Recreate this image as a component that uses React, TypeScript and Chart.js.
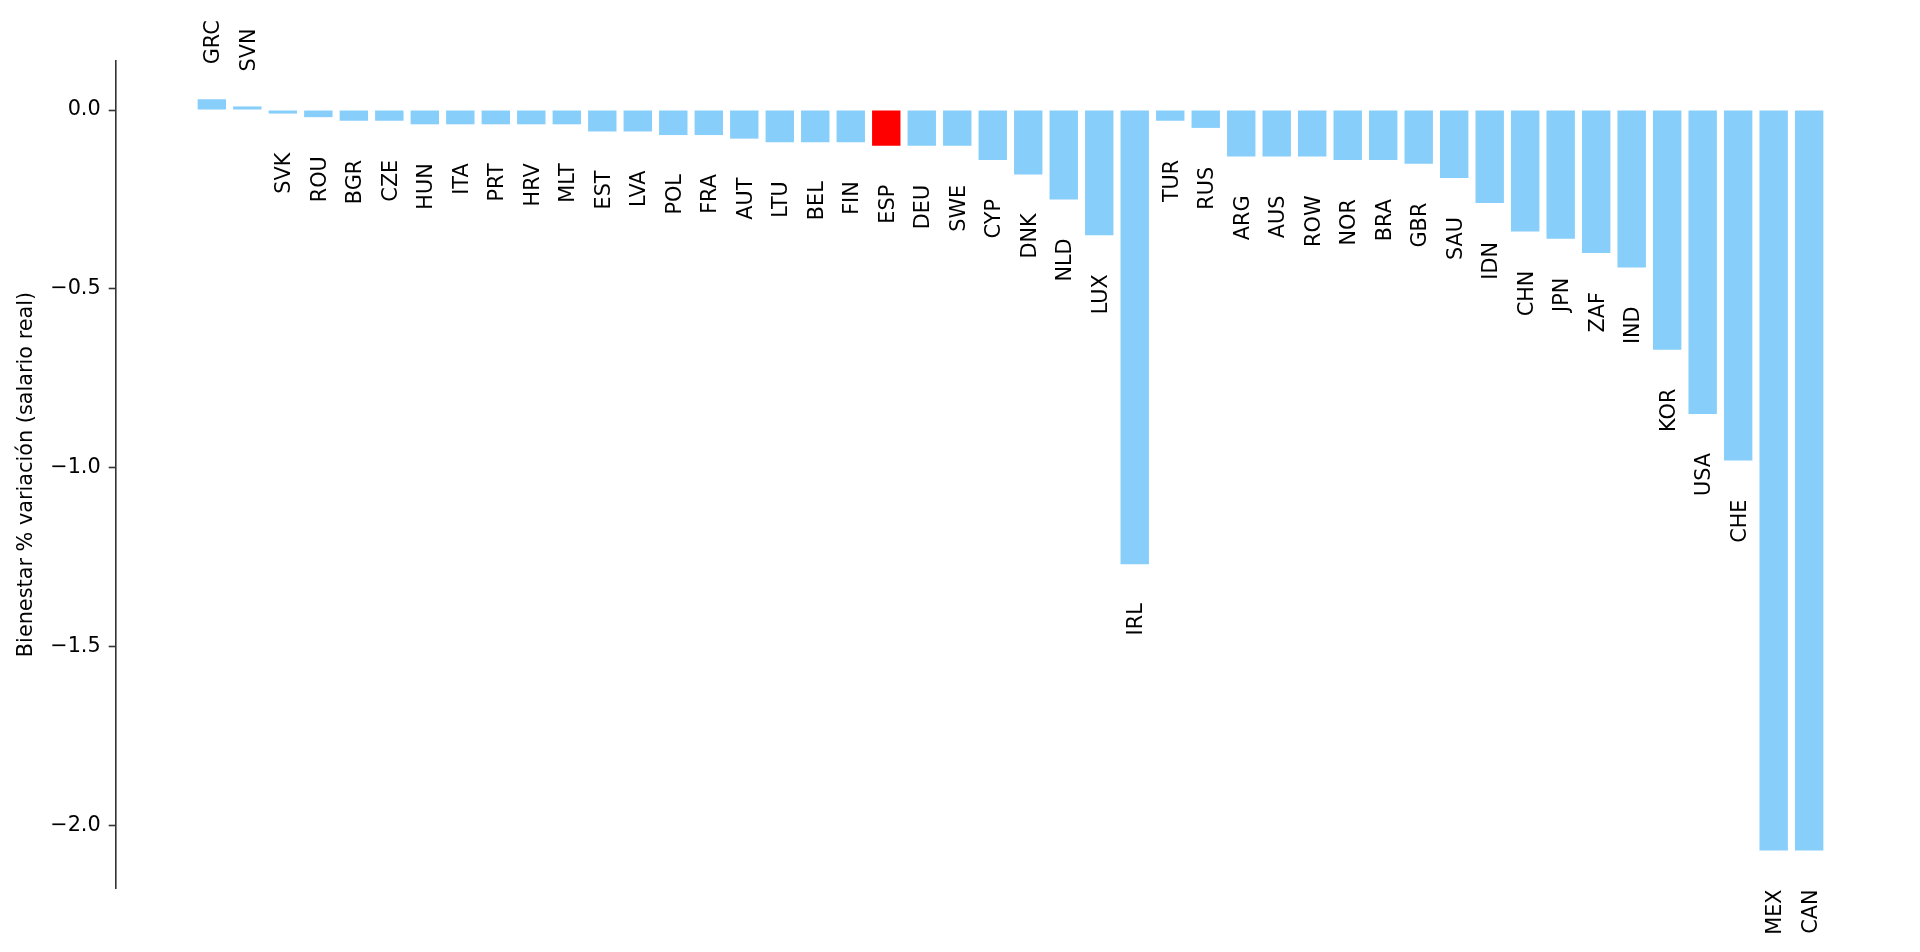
import React, { useEffect, useRef } from 'react';
import Chart from 'chart.js/auto';

// Country codes in plotted order
const countries = [
  'GRC', 'SVN', 'SVK', 'ROU', 'BGR', 'CZE', 'HUN', 'ITA', 'PRT', 'HRV', 'MLT', 'EST',
  'LVA', 'POL', 'FRA', 'AUT', 'LTU', 'BEL', 'FIN', 'ESP', 'DEU', 'SWE', 'CYP', 'DNK',
  'NLD', 'LUX', 'IRL', 'TUR', 'RUS', 'ARG', 'AUS', 'ROW', 'NOR', 'BRA', 'GBR', 'SAU',
  'IDN', 'CHN', 'JPN', 'ZAF', 'IND', 'KOR', 'USA', 'CHE', 'MEX', 'CAN',
];

// Welfare % change (real wage)
const welfareChange = [
  0.03, 0.01, -0.01, -0.02, -0.03, -0.03, -0.04, -0.04, -0.04, -0.04, -0.04, -0.06,
  -0.06, -0.07, -0.07, -0.08, -0.09, -0.09, -0.09, -0.10, -0.10, -0.10, -0.14, -0.18,
  -0.25, -0.35, -1.27, -0.03, -0.05, -0.13, -0.13, -0.13, -0.14, -0.14, -0.15, -0.19,
  -0.26, -0.34, -0.36, -0.40, -0.44, -0.67, -0.85, -0.98, -2.07, -2.07,
];

const highlighted = 'ESP';

const yTicks = [0, -0.5, -1, -1.5, -2];
const yTickLabels = ['0.0', '\u22120.5', '\u22121.0', '\u22121.5', '\u22122.0'];

const FONT = 'DejaVu Sans';
const FONT_SIZE = 20.8;

const barLabels = {
  id: 'barLabels',
  afterDatasetsDraw(chart: any) {
    const ctx = chart.ctx;
    const meta = chart.getDatasetMeta(0);
    ctx.save();
    ctx.font = `${FONT_SIZE}px "${FONT}"`;
    ctx.fillStyle = '#000';
    ctx.textBaseline = 'alphabetic';
    const half = FONT_SIZE * 0.729 / 2;
    meta.data.forEach((bar: any, i: number) => {
      const v = welfareChange[i];
      const y = v >= 0 ? bar.y - 35 : bar.y + 39;
      ctx.save();
      ctx.translate(bar.x, y);
      ctx.rotate(-Math.PI / 2);
      ctx.textAlign = v >= 0 ? 'left' : 'right';
      ctx.fillText(countries[i], 0, half);
      ctx.restore();
    });
    ctx.restore();
  },
};

const App: React.FC = () => {
  const chartRef = useRef<HTMLCanvasElement>(null);
  const chartInstanceRef = useRef<Chart | null>(null);

  useEffect(() => {
    if (!chartRef.current) return;
    const ctx = chartRef.current.getContext('2d');
    if (!ctx) return;

    if (chartInstanceRef.current) {
      chartInstanceRef.current.destroy();
    }

    Chart.defaults.font.family = FONT;
    Chart.defaults.font.size = FONT_SIZE;
    Chart.defaults.color = '#000';

    chartInstanceRef.current = new Chart(ctx, {
      type: 'bar',
      data: {
        datasets: [
          {
            data: welfareChange.map((v, i) => ({ x: i, y: v })),
            backgroundColor: countries.map((c) => (c === highlighted ? '#ff0000' : '#87cefa')),
            borderWidth: 0,
            barPercentage: 0.8,
            categoryPercentage: 1,
          },
        ],
      },
      options: {
        responsive: false,
        animation: false,
        layout: {
          padding: { left: 10, top: 61, right: 15, bottom: 64 },
        },
        scales: {
          x: {
            type: 'linear',
            display: false,
            offset: false,
            min: -2.7,
            max: 47.7,
          },
          y: {
            min: -2.175,
            max: 0.137,
            afterBuildTicks: (scale: any) => {
              scale.ticks = yTicks.map((v) => ({ value: v }));
            },
            afterFit: (scale: any) => {
              scale.width = 106;
            },
            ticks: {
              padding: 8,
              color: '#000',
              callback: (value: any) => {
                const idx = yTicks.indexOf(Number(value));
                return idx >= 0 ? yTickLabels[idx] : '';
              },
            },
            grid: {
              drawOnChartArea: false,
              drawTicks: true,
              tickLength: 7.3,
              tickWidth: 1.6,
              tickColor: '#333',
            },
            border: {
              display: true,
              color: '#333',
              width: 1.6,
            },
            title: {
              display: true,
              text: 'Bienestar % variación (salario real)',
              color: '#000',
              font: { size: FONT_SIZE, family: FONT },
            },
          },
        },
        plugins: {
          legend: { display: false },
          tooltip: { enabled: false },
        },
      },
      plugins: [barLabels],
    });

    return () => {
      if (chartInstanceRef.current) {
        chartInstanceRef.current.destroy();
        chartInstanceRef.current = null;
      }
    };
  }, []);

  return (
    <div style={{ position: 'absolute', left: 0, top: 0, width: 1920, height: 952, background: '#fff' }}>
      <canvas ref={chartRef} width={1920} height={952} style={{ display: 'block' }}></canvas>
    </div>
  );
};

export default App;
